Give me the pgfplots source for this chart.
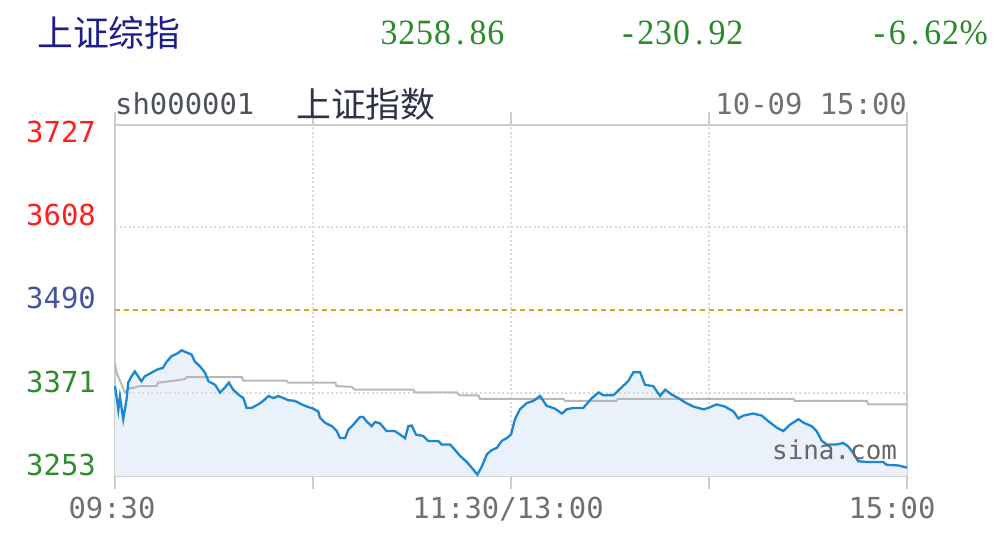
\documentclass[border=0pt]{standalone}
\usepackage{pgfplots}
\pgfplotsset{compat=1.18}
\usepackage{pgfplotstable}
\usepackage{graphicx}
\usepackage{fontspec}
\setmainfont{DejaVu Sans}
\setmonofont{DejaVu Sans Mono}
\newfontfamily\cjk{Noto Sans CJK SC}
\newfontfamily\topnum{Liberation Serif}
\newcommand{\cell}[1]{\makebox[17.8bp][c]{#1}}
\definecolor{navy}{HTML}{1E1E8A}
\definecolor{upgreen}{HTML}{2E8B2E}
\definecolor{numgreen}{HTML}{2A8A2A}
\definecolor{lblred}{HTML}{FF1E1E}
\definecolor{lblblue}{HTML}{4455A0}
\definecolor{axgray}{HTML}{CCCCCC}
\definecolor{gridgray}{HTML}{DADADA}
\definecolor{tickgray}{HTML}{707070}
\definecolor{lineblue}{HTML}{1C86D0}
\definecolor{fillblue}{HTML}{EAF1FA}
\definecolor{avggray}{HTML}{B8B8B8}
\definecolor{preorange}{HTML}{F29A26}
\definecolor{titlegray}{HTML}{2E3448}

\pgfplotstableread{
m v
0 3381
0.5 3365
1 3347
1.5 3366
2.5 3334
3.5 3362
4 3386
5 3395
6 3402
7 3395
8 3388
9 3395
11 3400
13 3405
14.5 3407
15.7 3416
17.2 3424
18.7 3427
20.2 3432
21.7 3429
23.2 3426
24.2 3416
25.8 3409
27.3 3400
28.3 3388
30.3 3383
31.8 3372
33.3 3379
34.5 3386
35.8 3376
37.4 3369
38.9 3364
39.9 3350
41.4 3350
43.4 3355
44.9 3360
46.5 3367
48 3364
49.5 3367
51 3364
52.5 3361
54.5 3360
56.6 3355
58.1 3352
60 3349
61.6 3345
62.1 3336
63.6 3329
65.7 3324
67.2 3317
68.2 3307
69.7 3307
70.7 3319
72.2 3326
74.2 3337
75.2 3337
76.2 3331
77.8 3324
78.8 3330
80.3 3328
82.3 3317
84.8 3317
86.4 3312
87.9 3307
88.9 3324
89.9 3325
91.2 3312
93.4 3310
94.9 3303
97.9 3303
99 3298
101.5 3298
102.5 3293
104.5 3282
106.6 3273
108.6 3262
109.8 3255
111.2 3267
112.7 3284
114.2 3290
115.7 3293
117.2 3303
118.7 3307
120 3312
121.2 3334
122.7 3348
124.8 3357
126.8 3360
128.8 3367
130.8 3353
133.3 3349
135.4 3342
136.9 3348
138.9 3350
141.9 3350
144.5 3364
146.5 3372
148 3368
151 3368
153 3377
155.5 3388
157.1 3401
159.1 3401
160.6 3383
163.1 3381
165.2 3367
166.7 3376
168.7 3369
170.7 3364
172.7 3358
175.2 3352
178.3 3348
179.8 3350
182.3 3355
184.8 3352
187.4 3345
188.9 3335
190.4 3339
193.4 3342
196 3339
198 3331
200.5 3322
202.5 3317
204.5 3326
207.1 3334
208.6 3329
211.1 3324
212.6 3317
214.2 3303
215.7 3298
218.7 3298
220.7 3300
222.2 3295
223.7 3286
225.2 3274
227.8 3273
232.8 3273
233.8 3269
237.4 3268
240 3265
}\pricetable

\pgfplotstableread{
m v
0 3412
0.5 3400
3 3372
4.5 3378
6.1 3379
7.1 3381
12.6 3381
13.1 3386
16.7 3388
21.2 3391
21.7 3394
38.4 3394
38.9 3389
52 3389
52.5 3386
66.7 3386
67.2 3381
71.7 3380
72.7 3376
90.4 3376
90.9 3372
103.5 3372
104.5 3368
110.1 3368
110.6 3363
135.8 3363
136.4 3360
152 3360
152.5 3363
205.5 3363
206.1 3360
227.8 3360
228.3 3355
240 3355
}\avgtable

\begin{document}
\begin{tikzpicture}
\begin{axis}[
  at={(115bp,65bp)}, anchor=south west,
  scale only axis, width=792bp, height=351bp,
  xmin=0, xmax=240, ymin=3253, ymax=3753,
  axis line style={draw=axgray, line width=2bp},
  xtick={0,60,120,180,240},
  xticklabels={09:30,,11:30/13:00,,15:00\hspace*{24bp}},
  ytick={3253,3371,3490,3608,3727},
  yticklabels={\textcolor{upgreen}{3253},\textcolor{upgreen}{3371},\textcolor{lblblue}{3490},\textcolor{lblred}{3608},\textcolor{lblred}{3727}},
  tick align=outside,
  major tick length=13bp,
  xtick style={draw=axgray, line width=2bp},
  ytick style={draw=none},
  xmajorgrids,
  grid style={draw=gridgray, line width=1.5bp, dash pattern=on 2bp off 2.5bp},
  ticklabel style={font=\ttfamily\fontsize{29}{29}\selectfont},
  xticklabel style={text=tickgray, anchor=north, inner sep=0pt, xshift=-3bp, yshift=-8bp},
  yticklabel style={anchor=base east, inner sep=0pt, xshift=-6bp, yshift=1bp},
  clip=false,
]
\addplot[fill=fillblue, draw=none] table[x=m, y=v] {\pricetable} \closedcycle;
\draw[gridgray, line width=1.5bp, dash pattern=on 2bp off 2.5bp] (axis cs:0,3608) -- (axis cs:240,3608);
\draw[gridgray, line width=1.5bp, dash pattern=on 2bp off 2.5bp] (axis cs:0,3371) -- (axis cs:240,3371);
\addplot[avggray, line width=2bp] table[x=m, y=v] {\avgtable};
\addplot[preorange, line width=2bp, dash pattern=on 5bp off 4bp] coordinates {(0,3490) (240,3490)};
\addplot[lineblue, line width=2.3bp] table[x=m, y=v] {\pricetable};
\end{axis}
% titles
\node[anchor=west, inner sep=0pt, text=navy, font=\cjk\fontsize{36}{36}\selectfont] at (37bp,508bp) {上证综指};
\node[anchor=west, inner sep=0pt, text=numgreen, font=\topnum\fontsize{34}{34}\selectfont] at (380bp,508bp) {\scalebox{1}[1.05]{\cell{3}\cell{2}\cell{5}\cell{8}\cell{.}\cell{8}\cell{6}}};
\node[anchor=west, inner sep=0pt, text=numgreen, font=\topnum\fontsize{34}{34}\selectfont] at (619bp,508bp) {\scalebox{1}[1.05]{\cell{-}\cell{2}\cell{3}\cell{0}\cell{.}\cell{9}\cell{2}}};
\node[anchor=east, inner sep=0pt, text=numgreen, font=\topnum\fontsize{34}{34}\selectfont] at (988bp,508bp) {\scalebox{1}[1.05]{\cell{-}\cell{6}\cell{.}\cell{6}\cell{2}\%}};
\node[anchor=west, inner sep=0pt, text=titlegray!85, font=\ttfamily\fontsize{29}{29}\selectfont] at (115bp,437bp) {sh000001};
\node[anchor=west, inner sep=0pt, text=titlegray, font=\cjk\fontsize{35}{35}\selectfont] at (296bp,437bp) {上证指数};
\node[anchor=east, inner sep=0pt, text=tickgray, font=\ttfamily\fontsize{29}{29}\selectfont] at (907bp,437bp) {10-09 15:00};
\node[anchor=west, inner sep=0pt, text=black!60, font=\ttfamily\fontsize{26}{26}\selectfont] at (772bp,91bp) {sina.com};
\pgfresetboundingbox
\path (0,0) rectangle (994bp,541bp);
\end{tikzpicture}
\end{document}
